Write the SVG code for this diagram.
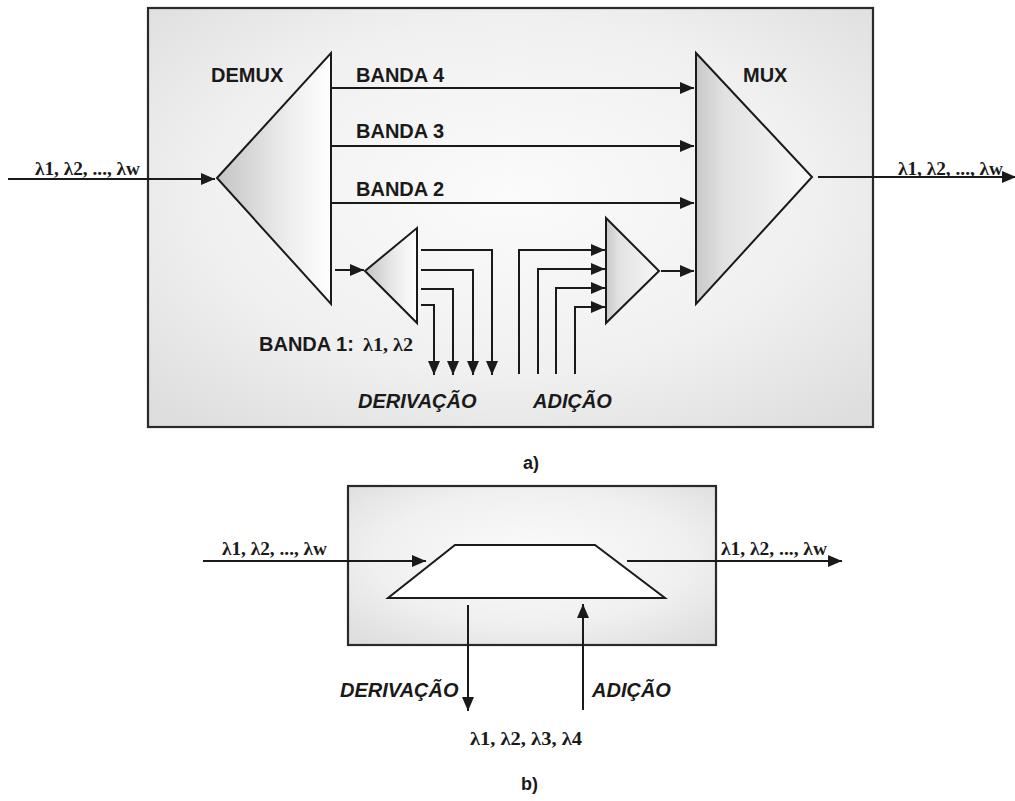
<svg xmlns="http://www.w3.org/2000/svg" width="1015" height="801" viewBox="0 0 1015 801">
<style>
.box{stroke:#2a2a2a;stroke-width:2.2}
.ln{fill:none;stroke:#1a1a1a;stroke-width:2}
.arr{fill:none;stroke:#1a1a1a;stroke-width:2;marker-end:url(#ah)}
.tri{stroke:#1a1a1a;stroke-width:2;stroke-linejoin:miter}
.lab{font-family:"Liberation Sans",Arial,sans-serif;font-weight:bold;font-size:20px;fill:#1a1a1a}
.it{font-style:italic}
.lam{font-family:"Liberation Serif","Times New Roman",serif;font-weight:bold;font-size:19px;fill:#1a1a1a}
.cap{font-family:"Liberation Sans",Arial,sans-serif;font-weight:bold;font-size:18px;fill:#1a1a1a}
</style>
<defs>
<marker id="ah" viewBox="0 0 14 12" refX="14" refY="6" markerWidth="14" markerHeight="12" markerUnits="userSpaceOnUse" orient="auto">
<path d="M0,0 L14,6 L0,12 z" fill="#1a1a1a"/>
</marker>
<radialGradient id="bg" cx="0.5" cy="0.45" r="0.7">
<stop offset="0" stop-color="#fbfbfb"/>
<stop offset="0.6" stop-color="#f0f0f0"/>
<stop offset="1" stop-color="#dedede"/>
</radialGradient>
<linearGradient id="gl" x1="0" y1="0" x2="1" y2="0">
<stop offset="0" stop-color="#c4c4c4"/>
<stop offset="0.6" stop-color="#ececec"/>
<stop offset="1" stop-color="#ffffff"/>
</linearGradient>
<linearGradient id="gm" x1="0" y1="0" x2="1" y2="0">
<stop offset="0" stop-color="#c8c8c8"/>
<stop offset="0.25" stop-color="#e2e2e2"/>
<stop offset="1" stop-color="#f8f8f8"/>
</linearGradient>
</defs>

<g id="box-a"><rect class="box" x="148" y="8" width="725" height="419" fill="url(#bg)"/></g>
<g id="box-b"><rect class="box" x="348" y="486" width="368" height="159" fill="url(#bg)"/></g>

<g id="demux">
<polygon class="tri" points="217,178 331,53 331,304" fill="url(#gl)"/>
<text class="lab" x="211" y="82">DEMUX</text>
</g>
<g id="mux">
<polygon class="tri" points="696,53 812,177 696,304" fill="url(#gm)"/>
<text class="lab" x="743" y="82">MUX</text>
</g>
<g id="demux-small">
<polygon class="tri" points="365,271 417,228 417,323" fill="url(#gl)"/>
</g>
<g id="mux-small">
<polygon class="tri" points="606,218 659,271 606,323" fill="url(#gm)"/>
</g>
<g id="oadm">
<polygon class="tri" points="455,545 595,545 665,598 388,598" fill="#ffffff"/>
</g>

<g id="connectors">
<line class="arr" x1="8" y1="179" x2="215" y2="179"/>
<line class="arr" x1="331" y1="88" x2="694" y2="88"/>
<line class="arr" x1="331" y1="146" x2="694" y2="146"/>
<line class="arr" x1="331" y1="203" x2="694" y2="203"/>
<line class="arr" x1="335" y1="270" x2="364" y2="270"/>
<line class="arr" x1="661" y1="271" x2="694" y2="271"/>
<line class="arr" x1="818" y1="177" x2="1016" y2="177"/>
<polyline class="arr" points="421,250 492,250 492,375"/>
<polyline class="arr" points="421,270 473,270 473,375"/>
<polyline class="arr" points="421,289 453,289 453,375"/>
<polyline class="arr" points="421,305 434,305 434,375"/>
<polyline class="arr" points="519,374 519,250 605,250"/>
<polyline class="arr" points="538,374 538,269 605,269"/>
<polyline class="arr" points="556,374 556,288 605,288"/>
<polyline class="arr" points="575,374 575,307 605,307"/>
<line class="arr" x1="203" y1="561" x2="426" y2="561"/>
<line class="arr" x1="627" y1="561" x2="842" y2="561"/>
<line class="arr" x1="468" y1="605" x2="468" y2="711"/>
<line class="arr" x1="583" y1="710" x2="583" y2="604"/>
</g>

<g id="labels">
<text class="lab" x="356" y="82">BANDA 4</text>
<text class="lab" x="356" y="138">BANDA 3</text>
<text class="lab" x="356" y="196">BANDA 2</text>
<text class="lab" x="259" y="351">BANDA 1: <tspan class="lam" font-size="21" x="363" textLength="50" lengthAdjust="spacingAndGlyphs">λ1, λ2</tspan></text>
<text class="lab it" x="358" y="408">DERIVAÇÃO</text>
<text class="lab it" x="533" y="408">ADIÇÃO</text>
<text class="lam" x="35" y="175" textLength="105" lengthAdjust="spacingAndGlyphs">λ1, λ2, ..., λw</text>
<text class="lam" x="898" y="175" textLength="105" lengthAdjust="spacingAndGlyphs">λ1, λ2, ..., λw</text>
<text class="cap" x="523" y="469">a)</text>
<text class="lam" x="222" y="555" textLength="105" lengthAdjust="spacingAndGlyphs">λ1, λ2, ..., λw</text>
<text class="lam" x="721" y="555" textLength="106" lengthAdjust="spacingAndGlyphs">λ1, λ2, ..., λw</text>
<text class="lab it" x="340" y="697">DERIVAÇÃO</text>
<text class="lab it" x="592" y="697">ADIÇÃO</text>
<text class="lam" x="470" y="745" textLength="112" lengthAdjust="spacingAndGlyphs">λ1, λ2, λ3, λ4</text>
<text class="cap" x="521" y="790">b)</text>
</g>
</svg>
